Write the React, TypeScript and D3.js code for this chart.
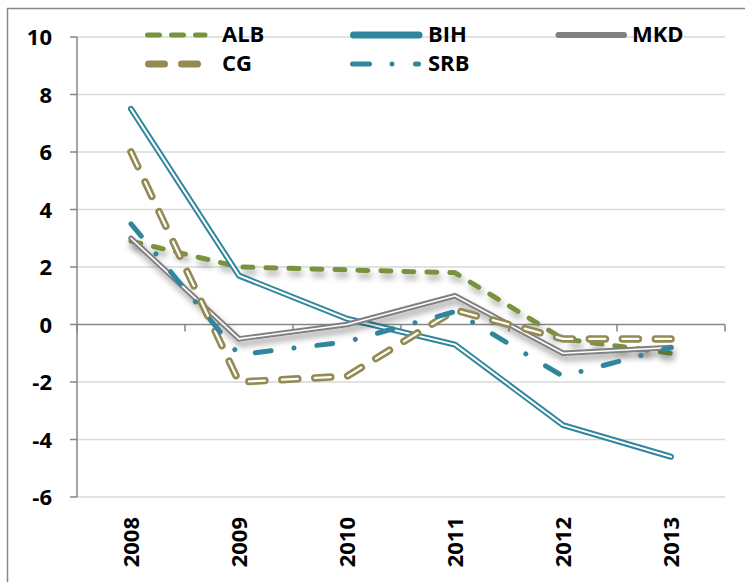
import React from 'react';
import * as d3 from 'd3';

const years = ['2008', '2009', '2010', '2011', '2012', '2013'];
const ALB = [2.9, 2.0, 1.9, 1.8, -0.5, -1.0];
const BIH = [7.5, 1.7, 0.2, -0.7, -3.5, -4.6];
const MKD = [3.0, -0.5, 0.0, 1.0, -1.0, -0.8];
const CG = [6.0, -2.0, -1.8, 0.5, -0.5, -0.5];
const SRB = [3.5, -1.05, -0.6, 0.45, -1.8, -0.8];
const yTicks = [-6, -4, -2, 0, 2, 4, 6, 8, 10];

const W = 745;
const H = 582;
const FONT = "'Open Sans', 'DejaVu Sans', sans-serif";

export default function App() {
  const x = d3.scaleBand<string>().domain(years).range([77, 725]).paddingInner(0).paddingOuter(0);
  const y = d3.scaleLinear().domain([-6, 10]).range([497, 37]);
  const cx = (i: number) => (x(years[i]) as number) + x.bandwidth() / 2;
  const line = d3
    .line<number>()
    .x((_, i) => cx(i))
    .y((v) => y(v));

  const green = '#77933C';
  const teal = '#31859C';
  const gray = '#808080';
  const khaki = '#948A54';

  const boundaries = d3.range(years.length + 1).map((i) => 77 + i * x.bandwidth());

  const legendLine = (x1: number, x2: number, yy: number) => `M${x1},${yy}L${x2},${yy}`;
  const fs = 22;

  return (
    <>
      <style>{`html, body { margin: 0; padding: 0; overflow: hidden; background: #fff; }`}</style>
      <svg width={W} height={H} style={{ position: 'fixed', left: 0, top: 0, background: '#fff', display: 'block' }}>
        <defs>
          <filter id="shadow" filterUnits="userSpaceOnUse" x={0} y={0} width={W} height={H}>
            <feDropShadow dx="2" dy="5" stdDeviation="3" floodColor="#000" floodOpacity="0.35" />
          </filter>
        </defs>
        <line x1={7.5} x2={7.5} y1={8} y2={H} stroke="#868686" strokeWidth={1.5} />
        <line x1={7} x2={W} y1={8.5} y2={8.5} stroke="#868686" strokeWidth={1.5} />

        {/* gridlines */}
        {yTicks.map((t) =>
          t === 0 ? null : (
            <line key={t} x1={77} x2={725} y1={y(t)} y2={y(t)} stroke="#D9D9D9" strokeWidth={1.5} />
          )
        )}

        {/* y axis */}
        <line x1={77} x2={77} y1={y(10)} y2={y(-6)} stroke="#868686" strokeWidth={1.5} />
        {yTicks.map((t) => (
          <g key={t}>
            <line x1={70} x2={77} y1={y(t)} y2={y(t)} stroke="#868686" strokeWidth={1.5} />
            <text x={52} y={y(t) + 8} textAnchor="end" fontFamily={FONT} fontWeight="bold" fontSize={fs} fill="#000">
              {t}
            </text>
          </g>
        ))}

        {/* x axis at zero */}
        <line x1={77} x2={725} y1={y(0)} y2={y(0)} stroke="#868686" strokeWidth={1.5} />
        {boundaries.map((b, i) => (
          <line key={i} x1={b} x2={b} y1={y(0)} y2={y(0) + 7} stroke="#868686" strokeWidth={1.5} />
        ))}
        {years.map((yr, i) => (
          <text
            key={yr}
            transform={`translate(${cx(i) + 8},517) rotate(-90)`}
            textAnchor="end"
            fontFamily={FONT}
            fontWeight="bold"
            fontSize={fs}
            fill="#000"
          >
            {yr}
          </text>
        ))}

        {/* series in order: ALB, BIH, MKD, CG, SRB */}
        <path d={line(ALB) as string} fill="none" stroke={green} strokeWidth={5} strokeDasharray="10,13" strokeLinecap="round" strokeLinejoin="round" filter="url(#shadow)" />

        <path d={line(BIH) as string} fill="none" stroke={teal} strokeWidth={6} strokeLinecap="round" strokeLinejoin="round" />
        <path d={line(BIH) as string} fill="none" stroke="#fff" strokeWidth={2} strokeLinecap="round" strokeLinejoin="round" />

        <g filter="url(#shadow)">
          <path d={line(MKD) as string} fill="none" stroke={gray} strokeWidth={5.5} strokeLinecap="round" strokeLinejoin="round" />
          <path d={line(MKD) as string} fill="none" stroke="#fff" strokeWidth={1.6} strokeLinecap="round" strokeLinejoin="round" />
        </g>

        <path d={line(CG) as string} fill="none" stroke={khaki} strokeWidth={7.5} strokeDasharray="16,17" strokeLinecap="round" strokeLinejoin="round" />
        <path d={line(CG) as string} fill="none" stroke="#fff" strokeWidth={2.2} strokeDasharray="16,17" strokeLinecap="round" strokeLinejoin="round" />

        <path d={line(SRB) as string} fill="none" stroke={teal} strokeWidth={5} strokeDasharray="16,23,0.01,23" strokeLinecap="round" strokeLinejoin="round" />

        {/* legend */}
        <path d={legendLine(147.5, 205, 35)} stroke={green} strokeWidth={5} strokeDasharray="12,12" strokeLinecap="round" fill="none" />
        <text x={222} y={42} fontFamily={FONT} fontWeight="bold" fontSize={fs} fill="#000">ALB</text>

        <path d={legendLine(353.5, 419, 35)} stroke={teal} strokeWidth={7} strokeLinecap="round" fill="none" />
        <text x={428} y={42} fontFamily={FONT} fontWeight="bold" fontSize={fs} fill="#000">BIH</text>

        <path d={legendLine(558.5, 624, 35)} stroke={gray} strokeWidth={6} strokeLinecap="round" fill="none" />
        <text x={632} y={42} fontFamily={FONT} fontWeight="bold" fontSize={fs} fill="#000">MKD</text>

        <path d={legendLine(148.5, 214.5, 64)} stroke={khaki} strokeWidth={7} strokeDasharray="16,17" strokeLinecap="round" fill="none" />
        <text x={222} y={71} fontFamily={FONT} fontWeight="bold" fontSize={fs} fill="#000">CG</text>

        <path d={legendLine(352.5, 418.5, 64)} stroke={teal} strokeWidth={5} strokeDasharray="17,22.5,0.01,23.5" strokeLinecap="round" fill="none" />
        <text x={428} y={71} fontFamily={FONT} fontWeight="bold" fontSize={fs} fill="#000">SRB</text>
      </svg>
    </>
  );
}
